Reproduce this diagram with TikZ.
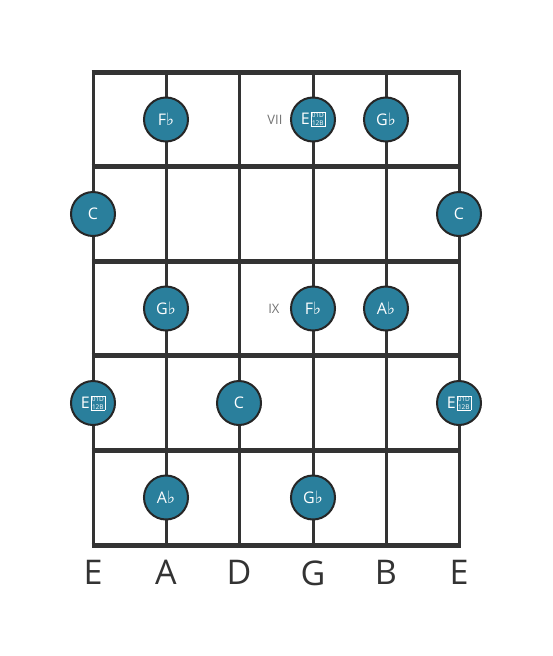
\documentclass[tikz,border=0pt]{standalone}
\usepackage{fontspec}
\setmainfont{Open Sans}
\newfontfamily\symfont{DejaVu Sans}
\usepackage{tikz}
\usetikzlibrary{positioning}

\definecolor{noteblue}{HTML}{2A7F9C}
\definecolor{fretgray}{HTML}{333333}

\newcommand{\fl}{{\symfont\fontsize{17}{17}\selectfont\raisebox{-0.5pt}{♭}}}
\newcommand{\dfl}{\kern0.8pt{\setlength{\fboxsep}{0.6pt}\setlength{\fboxrule}{0.6pt}\raisebox{-1.2pt}{\fbox{\fontsize{6.5}{7}\selectfont\shortstack{01D\\12B}}}}}

\tikzset{
	stringline/.style={draw=fretgray, line width=3pt},
	fretline/.style={draw=fretgray, line width=5pt},
	note/.style={circle, draw=black!85, line width=2pt, fill=noteblue, minimum size=44pt, inner sep=0pt, text=white, font=\fontsize{16}{16}\selectfont},
	fretnum/.style={text=black!55, font=\fontsize{13}{13}\selectfont},
	strname/.style={text=fretgray, font=\fontsize{34}{34}\selectfont}
}

\begin{document}
\begin{tikzpicture}[x=1pt, y=1pt]
		\useasboundingbox (0,0) rectangle (553,-656);
		
		% string ends
		\coordinate (T1) at (93,-72);
		\coordinate (T2) at (166,-72);
		\coordinate (T3) at (239,-72);
		\coordinate (T4) at (313,-72);
		\coordinate (T5) at (386,-72);
		\coordinate (T6) at (459,-72);
		\coordinate (B1) at (93,-545);
		\coordinate (B2) at (166,-545);
		\coordinate (B3) at (239,-545);
		\coordinate (B4) at (313,-545);
		\coordinate (B5) at (386,-545);
		\coordinate (B6) at (459,-545);
		
		% fret ends
		\coordinate (L0) at (91.5,-72);
		\coordinate (L1) at (91.5,-166.6);
		\coordinate (L2) at (91.5,-261.2);
		\coordinate (L3) at (91.5,-355.8);
		\coordinate (L4) at (91.5,-450.4);
		\coordinate (L5) at (91.5,-545);
		\coordinate (R0) at (460.5,-72);
		\coordinate (R1) at (460.5,-166.6);
		\coordinate (R2) at (460.5,-261.2);
		\coordinate (R3) at (460.5,-355.8);
		\coordinate (R4) at (460.5,-450.4);
		\coordinate (R5) at (460.5,-545);
		
		\draw[stringline] (T1) -- (B1);
		\draw[stringline] (T2) -- (B2);
		\draw[stringline] (T3) -- (B3);
		\draw[stringline] (T4) -- (B4);
		\draw[stringline] (T5) -- (B5);
		\draw[stringline] (T6) -- (B6);
		
		\draw[fretline] (L0) -- (R0);
		\draw[fretline] (L1) -- (R1);
		\draw[fretline] (L2) -- (R2);
		\draw[fretline] (L3) -- (R3);
		\draw[fretline] (L4) -- (R4);
		\draw[fretline] (L5) -- (R5);
		
		% fret 1
		\node[note] (N1) at (166,-119.5) {F\fl};
		\node[note] (N2) at (313,-119.5) {E\dfl};
		\node[note] (N3) at (386,-119.5) {G\fl};
		\node[fretnum, left=4pt of N2] (VII) {VII};
		
		% fret 2
		\node[note] (N4) at (93,-214) {C};
		\node[note] (N5) at (459,-214) {C};
		
		% fret 3
		\node[note] (N6) at (166,-308.5) {G\fl};
		\node[note] (N7) at (313,-308.5) {F\fl};
		\node[note] (N8) at (386,-308.5) {A\fl};
		\node[fretnum, left=7pt of N7] (IX) {IX};
		
		% fret 4
		\node[note] (N9) at (93,-403) {E\dfl};
		\node[note] (N10) at (239,-403) {C};
		\node[note] (N11) at (459,-403) {E\dfl};
		
		% fret 5
		\node[note] (N12) at (166,-497.5) {A\fl};
		\node[note] (N13) at (313,-497.5) {G\fl};
		
		% string names
		\node[strname, below=12pt of B1] (S1) {E};
		\node[strname, below=12pt of B2] (S2) {A};
		\node[strname, below=12pt of B3] (S3) {D};
		\node[strname, below=12pt of B4] (S4) {G};
		\node[strname, below=12pt of B5] (S5) {B};
		\node[strname, below=12pt of B6] (S6) {E};
		\end{tikzpicture}
\end{document}
